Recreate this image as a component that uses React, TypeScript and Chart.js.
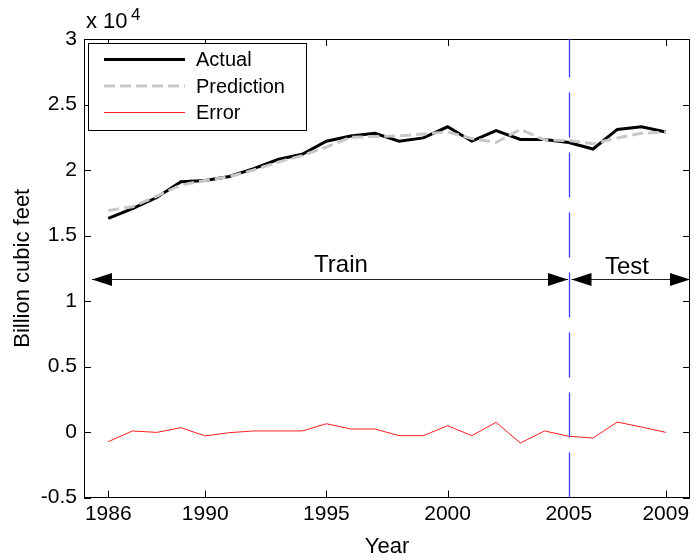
import React, { useEffect, useRef } from "react";
import { Chart, registerables } from "chart.js";

Chart.register(...registerables);

const YEARS = [1986, 1987, 1988, 1989, 1990, 1991, 1992, 1993, 1994, 1995, 1996, 1997, 1998, 1999, 2000, 2001, 2002, 2003, 2004, 2005, 2006, 2007, 2008, 2009];
const ACTUAL = [16300, 17050, 17900, 19100, 19200, 19500, 20100, 20800, 21200, 22200, 22600, 22800, 22200, 22450, 23300, 22200, 23000, 22330, 22330, 22100, 21600, 23100, 23300, 22900];
const PREDICTION = [16900, 17200, 18000, 18850, 19200, 19500, 20000, 20600, 21100, 21750, 22500, 22550, 22600, 22750, 22900, 22400, 22100, 23100, 22300, 22250, 22000, 22450, 22800, 22900];
const ERROR = [-740, 80, -30, 330, -300, -50, 80, 80, 80, 630, 230, 230, -280, -280, 480, -280, 740, -840, 80, -330, -460, 760, 380, -30];
const X_TICKS = [1986, 1990, 1995, 2000, 2005, 2009];
const SPLIT_YEAR = 2005;
const LEGEND_LABELS = ["Actual", "Prediction", "Error"];

const FONT = "'Liberation Sans', Arial, Helvetica, sans-serif";

const overlay = {
  id: "overlay",
  afterDraw(chart: any) {
    const { ctx, chartArea: a, scales } = chart;
    const xs = scales.x;
    const ys = scales.y;
    ctx.save();
    // frame
    ctx.strokeStyle = "#000";
    ctx.lineWidth = 1;
    ctx.strokeRect(Math.round(a.left) + 0.5, Math.round(a.top) + 0.5, Math.round(a.right - a.left) - 1, Math.round(a.bottom - a.top) - 1);
    // inward ticks
    const tl = 7;
    ctx.beginPath();
    X_TICKS.forEach((v) => {
      const px = Math.round(xs.getPixelForValue(v)) + 0.5;
      ctx.moveTo(px, a.bottom);
      ctx.lineTo(px, a.bottom - tl);
      ctx.moveTo(px, a.top);
      ctx.lineTo(px, a.top + tl);
    });
    ys.ticks.forEach((t: any) => {
      const py = Math.round(ys.getPixelForValue(t.value)) + 0.5;
      ctx.moveTo(a.left, py);
      ctx.lineTo(a.left + tl, py);
      ctx.moveTo(a.right, py);
      ctx.lineTo(a.right - tl, py);
    });
    ctx.stroke();

    // vertical split line
    const sx = Math.round(xs.getPixelForValue(SPLIT_YEAR)) + 0.5;
    ctx.strokeStyle = "rgb(60,60,255)";
    ctx.lineWidth = 1.3;
    ctx.setLineDash([45, 15]);
    ctx.beginPath();
    ctx.moveTo(sx, a.bottom);
    ctx.lineTo(sx, a.top);
    ctx.stroke();
    ctx.setLineDash([]);

    // arrows
    const ay = Math.round(ys.getPixelForValue(11650)) + 0.5;
    const drawArrow = (x1: number, x2: number) => {
      ctx.strokeStyle = "#222";
      ctx.lineWidth = 1;
      ctx.beginPath();
      ctx.moveTo(x1, ay);
      ctx.lineTo(x2, ay);
      ctx.stroke();
      ctx.fillStyle = "#000";
      const hl = 20, hh = 6.5;
      ctx.beginPath();
      ctx.moveTo(x1, ay);
      ctx.lineTo(x1 + hl, ay - hh);
      ctx.lineTo(x1 + hl, ay + hh);
      ctx.closePath();
      ctx.fill();
      ctx.beginPath();
      ctx.moveTo(x2, ay);
      ctx.lineTo(x2 - hl, ay - hh);
      ctx.lineTo(x2 - hl, ay + hh);
      ctx.closePath();
      ctx.fill();
    };
    drawArrow(a.left + 8, sx - 1.5);
    drawArrow(sx + 2, a.right);

    ctx.fillStyle = "#000";
    ctx.font = `24px ${FONT}`;
    ctx.textAlign = "center";
    ctx.textBaseline = "alphabetic";
    ctx.fillText("Train", xs.getPixelForValue(1995.6), 272);
    ctx.fillText("Test", xs.getPixelForValue(2007.4), 274);

    // legend
    const lx = 88.5, ly = 43.5, lw = 218, lh = 87;
    ctx.fillStyle = "#fff";
    ctx.fillRect(lx, ly, lw, lh);
    ctx.strokeStyle = "#000";
    ctx.lineWidth = 1;
    ctx.strokeRect(lx, ly, lw, lh);
    const rows = [59.5, 86, 112.5];
    const styles = [
      { c: "#000", w: 3, d: [] as number[] },
      { c: "#c8c8c8", w: 3, d: [11, 5] },
      { c: "#ff2020", w: 1, d: [] as number[] },
    ];
    rows.forEach((ry, i) => {
      const s = styles[i];
      ctx.strokeStyle = s.c;
      ctx.lineWidth = s.w;
      ctx.setLineDash(s.d);
      ctx.beginPath();
      ctx.moveTo(104, ry);
      ctx.lineTo(185, ry);
      ctx.stroke();
      ctx.setLineDash([]);
      ctx.fillStyle = "#000";
      ctx.font = `20px ${FONT}`;
      ctx.textAlign = "left";
      ctx.textBaseline = "middle";
      ctx.fillText(LEGEND_LABELS[i], 196, ry + 1);
    });

    // exponent label
    ctx.fillStyle = "#000";
    ctx.textAlign = "left";
    ctx.textBaseline = "alphabetic";
    ctx.font = `22px ${FONT}`;
    ctx.fillText("x 10", 86, 28);
    ctx.font = `17px ${FONT}`;
    ctx.fillText("4", 131, 20);
    ctx.restore();
  },
};

export default function App() {
  const ref = useRef<HTMLCanvasElement | null>(null);
  useEffect(() => {
    document.body.style.margin = "0";
    const canvas = ref.current;
    if (!canvas) return;
    const chart = new Chart(canvas, {
      type: "line",
      data: {
        datasets: [
          {
            label: "Actual",
            data: YEARS.map((y, i) => ({ x: y, y: ACTUAL[i] })),
            borderColor: "#000",
            borderWidth: 3,
            pointRadius: 0,
            fill: false,
            tension: 0,
            order: 3,
          },
          {
            label: "Prediction",
            data: YEARS.map((y, i) => ({ x: y, y: PREDICTION[i] })),
            borderColor: "#c8c8c8",
            borderWidth: 3,
            borderDash: [11, 5],
            pointRadius: 0,
            fill: false,
            tension: 0,
            order: 2,
          },
          {
            label: "Error",
            data: YEARS.map((y, i) => ({ x: y, y: ERROR[i] })),
            borderColor: "#ff2020",
            borderWidth: 1,
            pointRadius: 0,
            fill: false,
            tension: 0,
            order: 1,
          },
        ],
      },
      options: {
        responsive: false,
        animation: false,
        devicePixelRatio: 1,
        layout: { padding: { top: 39, right: 4, left: 0, bottom: 0 } },
        plugins: { legend: { display: false }, tooltip: { enabled: false } },
        scales: {
          x: {
            type: "linear",
            min: 1985,
            max: 2010,
            afterBuildTicks: (s: any) => {
              s.ticks = X_TICKS.map((v) => ({ value: v }));
            },
            afterFit: (s: any) => {
              s.height = 62.5;
            },
            grid: { display: false, drawTicks: false },
            border: { display: false },
            ticks: {
              autoSkip: false,
              maxRotation: 0,
              padding: 4,
              color: "#000",
              font: { family: FONT, size: 21 },
              callback: (v: any) => String(v),
            },
            title: {
              display: true,
              text: "Year",
              color: "#000",
              font: { family: FONT, size: 22 },
              padding: { top: 0, bottom: 0 },
            },
          },
          y: {
            type: "linear",
            min: -5000,
            max: 30000,
            afterFit: (s: any) => {
              s.width = 84;
            },
            grid: { display: false, drawTicks: false },
            border: { display: false },
            ticks: {
              stepSize: 5000,
              padding: 7,
              color: "#000",
              font: { family: FONT, size: 21 },
              callback: (v: any) => String(Number(v) / 10000),
            },
            title: {
              display: true,
              text: "Billion cubic feet",
              color: "#000",
              font: { family: FONT, size: 22 },
              padding: { top: 10, bottom: 0 },
            },
          },
        },
      },
      plugins: [overlay],
    });
    return () => chart.destroy();
  }, []);
  return (
    <div style={{ width: 694, height: 560 }}>
      <canvas ref={ref} width={694} height={560} style={{ display: "block", width: 694, height: 560 }} />
    </div>
  );
}
